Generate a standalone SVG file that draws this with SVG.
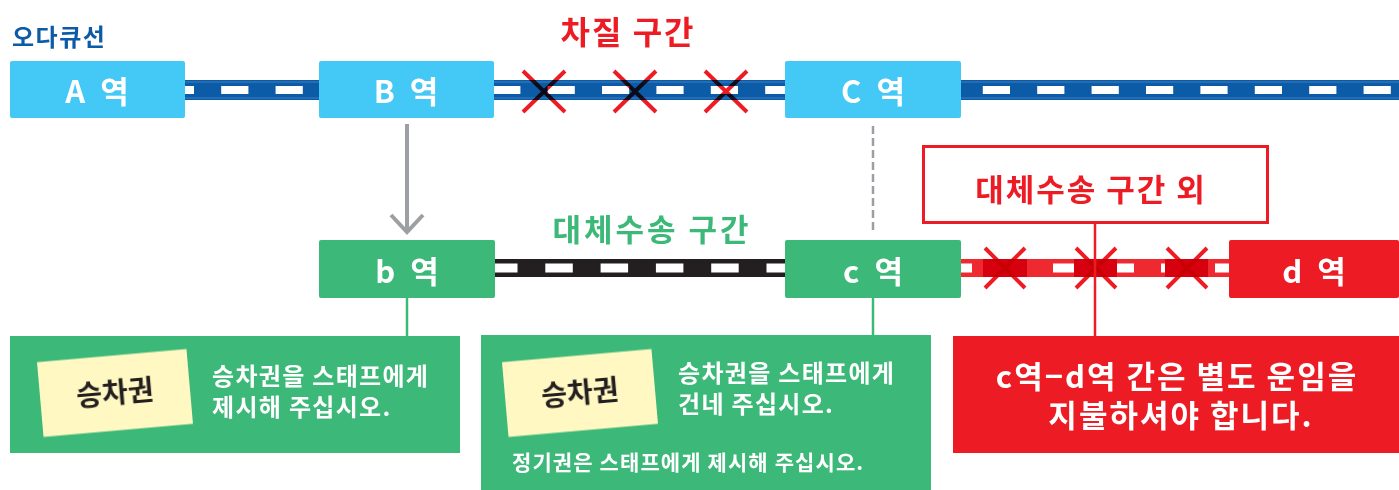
<svg xmlns="http://www.w3.org/2000/svg" width="1399" height="490" viewBox="0 0 1399 490">
<style>
text{font-family:"Noto Sans CJK KR","Noto Sans",sans-serif;font-weight:700}
.st{fill:#44C8F5}
.gs{fill:#3CB878}
.rs{fill:#ED1C24}
.lbl{fill:#fff;font-size:31px;text-anchor:middle;word-spacing:8px}
.x{stroke:#ED1C24;stroke-width:4;fill:none;mix-blend-mode:multiply}
.note{fill:#FFF8C2}
.nt{fill:#231F20;font-size:28px;text-anchor:middle}
.wt{fill:#fff;font-size:24px;letter-spacing:1.3px}
.rt{fill:#fff;font-size:31px;text-anchor:middle;letter-spacing:2px}
</style>
<rect width="1399" height="490" fill="#fff"/>
<text x="12" y="46" style="fill:#0B5BA7;font-size:24px;letter-spacing:1.5px">오다큐선</text>
<text x="628" y="44" style="fill:#ED1C24;font-size:32px;text-anchor:middle;letter-spacing:2px">차질 구간</text>
<g id="connectors">
  <rect x="10" y="80" width="1389" height="20" fill="#0B5BA7"/>
  <line x1="10" y1="82" x2="1399" y2="82" stroke="#3E7EC0" stroke-width="1"/>
  <line x1="10" y1="98" x2="1399" y2="98" stroke="#3E7EC0" stroke-width="1"/>
  <line x1="3.6" y1="90" x2="1399" y2="90" stroke="#fff" stroke-width="8" stroke-dasharray="27.2 27.2"/>
  <rect x="494" y="259" width="292" height="18" fill="#231F20"/>
  <line x1="490" y1="268" x2="786" y2="268" stroke="#fff" stroke-width="9" stroke-dasharray="27.5 27.8"/>
  <rect x="961" y="259" width="268" height="18" fill="#EE2A30"/>
  <line x1="945" y1="268" x2="1229" y2="268" stroke="#fff" stroke-width="9" stroke-dasharray="27 27"/>
  <rect x="983" y="259" width="44" height="18" fill="#D7000F"/>
  <rect x="1074" y="259" width="43" height="18" fill="#D7000F"/>
  <rect x="1165" y="259" width="43" height="18" fill="#D7000F"/>
  <path class="x" d="M523,71 L565,112 M565,71 L523,112"/>
  <path class="x" d="M614,71 L656,112 M656,71 L614,112"/>
  <path class="x" d="M705,71 L747,112 M747,71 L705,112"/>
  <path class="x" d="M985,248 L1025,288 M1025,248 L985,288"/>
  <path class="x" d="M1076,248 L1116,288 M1116,248 L1076,288"/>
  <path class="x" d="M1167,248 L1207,288 M1207,248 L1167,288"/>
  <line x1="407" y1="124" x2="407" y2="232" stroke="#9D9FA2" stroke-width="4"/>
  <polyline points="391,215 407,232 423,215" fill="none" stroke="#9D9FA2" stroke-width="4"/>
  <line x1="873" y1="126" x2="873" y2="230" stroke="#9D9FA2" stroke-width="2.5" stroke-dasharray="8 4"/>
  <line x1="407" y1="298" x2="407" y2="337" stroke="#3CB878" stroke-width="2.5"/>
  <line x1="873" y1="298" x2="873" y2="336" stroke="#3CB878" stroke-width="2.5"/>
  <line x1="1095" y1="223" x2="1095" y2="337" stroke="#ED1C24" stroke-width="2.5"/>
</g>
<g id="station-A"><rect class="st" x="10" y="61" width="175" height="57" rx="2"/><text class="lbl" x="97" y="103">A 역</text></g>
<g id="station-B"><rect class="st" x="319" y="61" width="175" height="57" rx="2"/><text class="lbl" x="406" y="103">B 역</text></g>
<g id="station-C"><rect class="st" x="785" y="61" width="176" height="57" rx="2"/><text class="lbl" x="873" y="103">C 역</text></g>
<g id="label-alt"><text x="652" y="241" style="fill:#3CB878;font-size:31px;text-anchor:middle;letter-spacing:3px">대체수송 구간</text></g>
<g id="station-b"><rect class="gs" x="319" y="240" width="176" height="58" rx="2"/><text class="lbl" x="407" y="283">b 역</text></g>
<g id="station-c"><rect class="gs" x="785" y="240" width="176" height="58" rx="2"/><text class="lbl" x="873" y="283">c 역</text></g>
<g id="station-d"><rect class="rs" x="1229" y="240" width="170" height="58" rx="2"/><text class="lbl" x="1314" y="283">d 역</text></g>
<g id="label-outside">
  <rect x="923.5" y="146.5" width="344" height="76" fill="#fff" stroke="#ED1C24" stroke-width="3"/>
  <text x="1091" y="201" style="fill:#ED1C24;font-size:31px;text-anchor:middle;letter-spacing:2px">대체수송 구간 외</text>
</g>
<g id="info-b">
  <rect class="gs" x="10" y="336" width="450" height="117"/>
  <g transform="rotate(-5 115 393)">
    <rect class="note" x="40" y="355.5" width="150" height="75"/>
    <text class="nt" x="115" y="403">승차권</text>
  </g>
  <text class="wt"><tspan x="212" y="385">승차권을 스태프에게</tspan><tspan x="212" y="416">제시해 주십시오.</tspan></text>
</g>
<g id="info-c">
  <rect class="gs" x="481" y="335" width="450" height="155"/>
  <g transform="rotate(-5 580 393)">
    <rect class="note" x="505" y="355.5" width="150" height="75"/>
    <text class="nt" x="580" y="403">승차권</text>
  </g>
  <text class="wt"><tspan x="678" y="382">승차권을 스태프에게</tspan><tspan x="678" y="413">건네 주십시오.</tspan></text>
  <text class="wt" x="512" y="470" style="font-size:21px;letter-spacing:1.1px">정기권은 스태프에게 제시해 주십시오.</text>
</g>
<g id="info-d">
  <rect class="rs" x="953" y="336" width="446" height="117"/>
  <text class="rt"><tspan x="1177" y="388">c역−d역 간은 별도 운임을</tspan><tspan x="1181" y="427">지불하셔야 합니다.</tspan></text>
</g>
</svg>
